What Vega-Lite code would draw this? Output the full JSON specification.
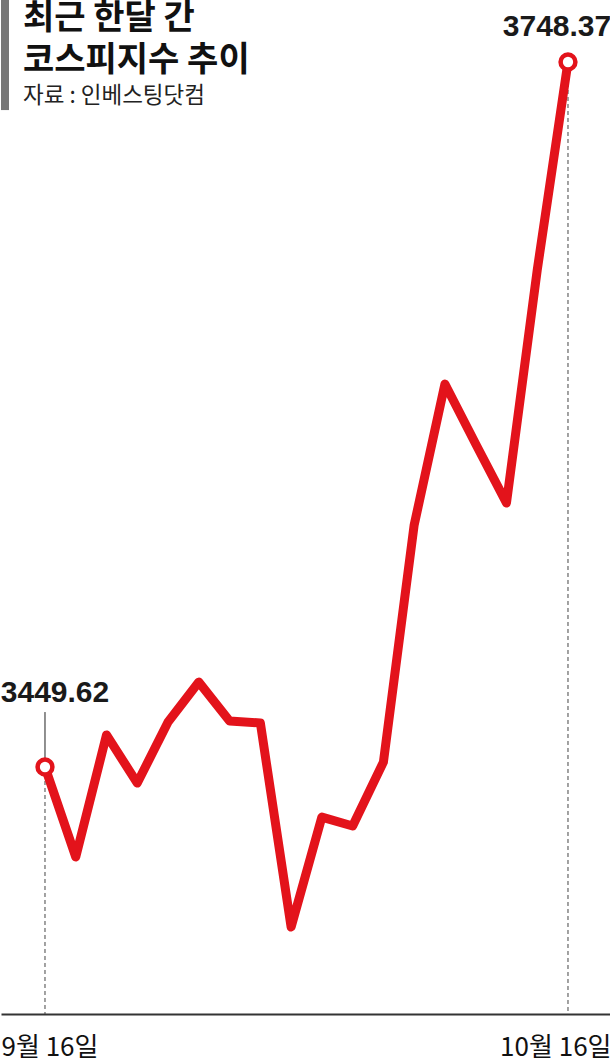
{
  "$schema": "https://vega.github.io/schema/vega-lite/v6.json",
  "width": 610,
  "height": 1014,
  "padding": 0,
  "autosize": {"type": "pad"},
  "background": "white",
  "title": {
    "text": ["최근 한달 간", "코스피지수 추이"],
    "subtitle": "자료 : 인베스팅닷컴",
    "anchor": "start",
    "frame": "group",
    "orient": "top",
    "offset": 0,
    "dx": 22,
    "dy": 107,
    "baseline": "top",
    "font": "Noto Sans CJK KR",
    "fontSize": 34,
    "fontWeight": "bold",
    "lineHeight": 42,
    "color": "#111111",
    "subtitleFont": "Noto Sans CJK KR",
    "subtitleFontSize": 22.5,
    "subtitleColor": "#222222",
    "subtitlePadding": 7
  },
  "data": {
    "values": [
      {"i": 0, "d": "9월 16일", "v": 3449.62},
      {"i": 1, "d": "9월 17일", "v": 3411.5},
      {"i": 2, "d": "9월 18일", "v": 3463.2},
      {"i": 3, "d": "9월 19일", "v": 3442.8},
      {"i": 4, "d": "9월 22일", "v": 3468.7},
      {"i": 5, "d": "9월 23일", "v": 3485.6},
      {"i": 6, "d": "9월 24일", "v": 3469.1},
      {"i": 7, "d": "9월 25일", "v": 3468.3},
      {"i": 8, "d": "9월 26일", "v": 3381.8},
      {"i": 9, "d": "9월 29일", "v": 3428.4},
      {"i": 10, "d": "9월 30일", "v": 3424.6},
      {"i": 11, "d": "10월 1일", "v": 3451.7},
      {"i": 12, "d": "10월 2일", "v": 3552.2},
      {"i": 13, "d": "10월 10일", "v": 3611.9},
      {"i": 14, "d": "10월 13일", "v": 3586.5},
      {"i": 15, "d": "10월 14일", "v": 3561.5},
      {"i": 16, "d": "10월 15일", "v": 3660.2},
      {"i": 17, "d": "10월 16일", "v": 3748.37}
    ]
  },
  "encoding": {
    "x": {
      "field": "i",
      "type": "quantitative",
      "scale": {"domain": [-1.43, 18.398], "nice": false, "zero": false},
      "axis": {
        "title": null,
        "values": [-1.43, 18.398],
        "labelExpr": "datum.value < 5 ? '9월 16일' : '10월 16일'",
        "labelFlush": true,
        "labelFont": "Noto Sans CJK KR",
        "labelFontSize": 26,
        "labelColor": "#111111",
        "labelPadding": 20,
        "ticks": false,
        "grid": false,
        "domainColor": "#333333",
        "domainWidth": 2
      }
    },
    "y": {
      "field": "v",
      "type": "quantitative",
      "scale": {"domain": [3344.95, 3774.64], "nice": false, "zero": false},
      "axis": null
    }
  },
  "layer": [
    {
      "transform": [{"filter": "datum.i == 0"}],
      "mark": {"type": "rect", "color": "#777777"},
      "encoding": {
        "x": {"datum": -1.43, "type": "quantitative"},
        "x2": {"datum": -1.17},
        "y": {"datum": 3774.64, "type": "quantitative"},
        "y2": {"datum": 3728.0}
      }
    },
    {
      "transform": [{"filter": "datum.i == 0 || datum.i == 17"}],
      "mark": {"type": "rule", "color": "#444444", "strokeWidth": 1, "strokeDash": [4, 3]},
      "encoding": {"y2": {"datum": 3344.95}}
    },
    {
      "transform": [{"filter": "datum.i == 0"}],
      "mark": {"type": "rule", "color": "#222222", "strokeWidth": 1},
      "encoding": {"y2": {"datum": 3472.9}}
    },
    {
      "mark": {"type": "line", "color": "#e3131b", "strokeWidth": 9, "strokeCap": "round", "strokeJoin": "round"},
      "encoding": {}
    },
    {
      "transform": [{"filter": "datum.i == 0 || datum.i == 17"}],
      "mark": {"type": "point", "shape": "circle", "filled": true, "fill": "white", "stroke": "#e3131b", "strokeWidth": 4.5, "size": 220, "opacity": 1},
      "encoding": {}
    },
    {
      "transform": [{"filter": "datum.i == 0"}],
      "mark": {"type": "text", "font": "Liberation Sans", "fontWeight": "bold", "fontSize": 30, "letterSpacing": -1.2, "color": "#1a1a1a", "align": "center", "baseline": "middle", "dx": 10, "dy": -74},
      "encoding": {"text": {"field": "v", "type": "quantitative", "format": ".2f"}}
    },
    {
      "transform": [{"filter": "datum.i == 17"}],
      "mark": {"type": "text", "font": "Liberation Sans", "fontWeight": "bold", "fontSize": 30, "letterSpacing": -1.2, "color": "#1a1a1a", "align": "center", "baseline": "middle", "dx": -11, "dy": -35},
      "encoding": {"text": {"field": "v", "type": "quantitative", "format": ".2f"}}
    }
  ],
  "config": {
    "view": {"stroke": null},
    "style": {
      "group-title": {"letterSpacing": -2},
      "group-subtitle": {"letterSpacing": 0}
    }
  }
}
